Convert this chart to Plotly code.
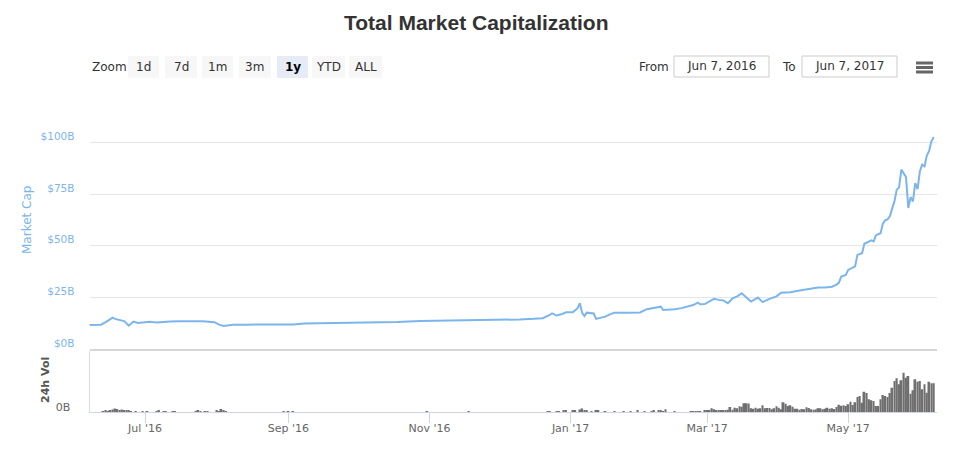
import plotly.graph_objects as go

# ---------------- data ----------------
cap_dates = [
    "2016-06-07", "2016-06-10", "2016-06-12", "2016-06-14", "2016-06-16", "2016-06-17",
    "2016-06-18", "2016-06-20", "2016-06-22", "2016-06-24", "2016-06-26", "2016-06-28",
    "2016-06-30", "2016-07-03", "2016-07-06", "2016-07-09", "2016-07-12", "2016-07-16",
    "2016-07-21", "2016-07-26", "2016-07-31", "2016-08-02", "2016-08-04", "2016-08-08",
    "2016-08-14", "2016-08-20", "2016-08-27", "2016-09-03", "2016-09-08", "2016-09-14",
    "2016-09-21", "2016-09-28", "2016-10-05", "2016-10-11", "2016-10-18", "2016-10-28",
    "2016-11-05", "2016-11-14", "2016-11-22", "2016-12-01", "2016-12-10", "2016-12-16",
    "2016-12-20", "2016-12-23", "2016-12-24", "2016-12-26", "2016-12-28", "2016-12-30",
    "2017-01-02", "2017-01-04", "2017-01-05", "2017-01-06", "2017-01-07", "2017-01-08",
    "2017-01-10", "2017-01-11", "2017-01-12", "2017-01-14", "2017-01-16", "2017-01-18",
    "2017-01-20", "2017-01-25", "2017-01-31", "2017-02-03", "2017-02-06", "2017-02-09",
    "2017-02-10", "2017-02-13", "2017-02-15", "2017-02-18", "2017-02-21", "2017-02-23",
    "2017-02-25", "2017-02-26", "2017-02-28", "2017-03-02", "2017-03-04", "2017-03-06",
    "2017-03-08", "2017-03-10", "2017-03-12", "2017-03-14", "2017-03-16", "2017-03-18",
    "2017-03-20", "2017-03-23", "2017-03-25", "2017-03-28", "2017-03-31", "2017-04-02",
    "2017-04-06", "2017-04-10", "2017-04-13", "2017-04-18", "2017-04-21", "2017-04-24",
    "2017-04-26", "2017-04-27", "2017-04-28", "2017-04-30", "2017-05-01", "2017-05-03",
    "2017-05-04", "2017-05-05", "2017-05-07", "2017-05-08", "2017-05-09", "2017-05-10",
    "2017-05-11", "2017-05-12", "2017-05-13", "2017-05-14", "2017-05-15", "2017-05-16",
    "2017-05-17", "2017-05-18", "2017-05-19", "2017-05-20", "2017-05-21", "2017-05-22",
    "2017-05-23", "2017-05-24", "2017-05-25", "2017-05-26", "2017-05-27", "2017-05-28",
    "2017-05-29", "2017-05-30", "2017-05-31", "2017-06-01", "2017-06-02", "2017-06-03",
    "2017-06-04", "2017-06-05", "2017-06-06", "2017-06-07",
]
cap_values = [  # billions USD
    11.6, 11.6, 11.8, 13.0, 14.5, 15.2,
    14.6, 14.0, 13.5, 11.3, 13.3, 12.6,
    12.9, 13.2, 12.8, 13.2, 13.3, 13.4,
    13.5, 13.4, 13.0, 11.8, 11.2, 11.7,
    11.8, 12.0, 11.9, 11.9, 12.4, 12.5,
    12.6, 12.6, 12.7, 13.0, 13.1, 13.6,
    13.7, 13.8, 13.8, 14.1, 14.3, 14.6,
    14.9, 16.5, 17.3, 16.2, 16.8, 17.8,
    17.8, 19.8, 22.2, 17.5, 16.0, 17.6,
    17.4, 17.2, 14.6, 15.2, 15.7, 16.8,
    17.6, 17.6, 17.7, 19.3, 19.8, 20.5,
    18.9, 19.1, 19.3, 19.8, 20.5, 21.3,
    22.5, 21.7, 21.8, 23.0, 24.3, 23.8,
    23.5, 22.2, 24.5, 25.5, 27.0, 25.0,
    23.0, 24.9, 22.7, 24.3, 25.5, 27.3,
    27.5, 28.3, 29.0, 29.8, 29.8, 30.2,
    31.2, 32.2, 35.1, 35.9, 38.3, 39.5,
    40.0, 45.6, 46.4, 51.0, 51.5, 52.4,
    52.6, 52.1, 55.0, 55.6, 56.1, 60.7,
    62.3, 62.8, 64.2, 68.0, 71.5, 77.2,
    78.3, 86.9, 85.0, 83.3, 68.3, 73.6,
    71.5, 80.4, 77.5, 86.1, 89.3, 88.5,
    93.7, 96.0, 100.6, 102.7,
]

vol_dates = [
    "2016-06-13", "2016-06-14", "2016-06-15", "2016-06-16", "2016-06-17", "2016-06-18",
    "2016-06-19", "2016-06-20", "2016-06-21", "2016-06-22", "2016-06-23", "2016-06-24",
    "2016-06-25", "2016-06-27", "2016-06-30", "2016-07-02", "2016-07-06", "2016-07-07",
    "2016-07-09", "2016-07-10", "2016-07-13", "2016-07-14", "2016-07-23", "2016-07-24",
    "2016-07-25", "2016-07-27", "2016-07-28", "2016-08-01", "2016-08-02", "2016-08-03",
    "2016-08-04", "2016-08-05", "2016-08-30", "2016-09-01", "2016-09-03", "2016-10-31",
    "2016-11-18", "2016-12-22", "2016-12-23", "2016-12-26", "2016-12-27", "2016-12-29",
    "2016-12-30", "2017-01-02", "2017-01-03", "2017-01-05", "2017-01-06", "2017-01-07",
    "2017-01-08", "2017-01-10", "2017-01-12", "2017-01-13", "2017-01-16", "2017-01-20",
    "2017-01-24", "2017-01-27", "2017-01-30", "2017-02-02", "2017-02-05", "2017-02-06",
    "2017-02-08", "2017-02-09", "2017-02-10", "2017-02-11", "2017-02-15", "2017-02-22",
    "2017-02-23", "2017-02-24", "2017-02-25", "2017-02-26", "2017-02-28", "2017-03-01",
    "2017-03-02", "2017-03-03", "2017-03-04", "2017-03-05", "2017-03-06", "2017-03-07",
    "2017-03-08", "2017-03-09", "2017-03-10", "2017-03-11", "2017-03-12", "2017-03-13",
    "2017-03-14", "2017-03-15", "2017-03-16", "2017-03-17", "2017-03-18", "2017-03-19",
    "2017-03-20", "2017-03-21", "2017-03-22", "2017-03-23", "2017-03-24", "2017-03-25",
    "2017-03-26", "2017-03-27", "2017-03-28", "2017-03-29", "2017-03-30", "2017-03-31",
    "2017-04-01", "2017-04-02", "2017-04-03", "2017-04-04", "2017-04-05", "2017-04-06",
    "2017-04-07", "2017-04-08", "2017-04-09", "2017-04-10", "2017-04-11", "2017-04-12",
    "2017-04-13", "2017-04-14", "2017-04-15", "2017-04-16", "2017-04-17", "2017-04-18",
    "2017-04-19", "2017-04-20", "2017-04-21", "2017-04-22", "2017-04-23", "2017-04-24",
    "2017-04-25", "2017-04-26", "2017-04-27", "2017-04-28", "2017-04-29", "2017-04-30",
    "2017-05-01", "2017-05-02", "2017-05-03", "2017-05-04", "2017-05-05", "2017-05-06",
    "2017-05-07", "2017-05-08", "2017-05-09", "2017-05-10", "2017-05-11", "2017-05-12",
    "2017-05-13", "2017-05-14", "2017-05-15", "2017-05-16", "2017-05-17", "2017-05-18",
    "2017-05-19", "2017-05-20", "2017-05-21", "2017-05-22", "2017-05-23", "2017-05-24",
    "2017-05-25", "2017-05-26", "2017-05-27", "2017-05-28", "2017-05-29", "2017-05-30",
    "2017-05-31", "2017-06-01", "2017-06-02", "2017-06-03", "2017-06-04", "2017-06-05",
    "2017-06-06", "2017-06-07",
]
vol_values = [  # billions USD
    0.08, 0.12, 0.08, 0.16, 0.20, 0.28,
    0.24, 0.16, 0.20, 0.12, 0.16, 0.12,
    0.08, 0.08, 0.08, 0.08, 0.08, 0.12,
    0.08, 0.08, 0.08, 0.08, 0.08, 0.12,
    0.08, 0.08, 0.08, 0.12, 0.08, 0.24,
    0.16, 0.08, 0.08, 0.08, 0.08, 0.08,
    0.08, 0.08, 0.08, 0.08, 0.08, 0.12,
    0.12, 0.12, 0.12, 0.20, 0.28, 0.16,
    0.12, 0.08, 0.12, 0.12, 0.08, 0.08,
    0.08, 0.08, 0.12, 0.08, 0.08, 0.12,
    0.12, 0.16, 0.08, 0.22, 0.06, 0.08,
    0.08, 0.08, 0.08, 0.08, 0.16, 0.16,
    0.16, 0.30, 0.22, 0.14, 0.14, 0.14,
    0.14, 0.14, 0.18, 0.40, 0.18, 0.34,
    0.30, 0.46, 0.42, 0.70, 0.70, 0.68,
    0.30, 0.26, 0.34, 0.26, 0.30, 0.54,
    0.30, 0.32, 0.32, 0.22, 0.30, 0.46,
    0.34, 0.22, 0.78, 0.66, 0.48, 0.54,
    0.42, 0.26, 0.26, 0.18, 0.24, 0.22,
    0.38, 0.32, 0.22, 0.18, 0.20, 0.30,
    0.30, 0.22, 0.26, 0.34, 0.26, 0.30,
    0.24, 0.40, 0.58, 0.50, 0.54, 0.48,
    0.62, 0.82, 0.56, 0.78, 1.20, 1.28,
    0.74, 1.62, 1.52, 1.02, 0.94, 0.88,
    0.48, 0.48, 1.02, 1.36, 1.28, 1.20,
    1.52, 1.94, 2.48, 2.70, 2.22, 2.54,
    3.14, 2.74, 2.88, 1.46, 1.74, 2.62,
    2.42, 2.48, 1.82, 2.22, 1.54, 2.42,
    2.30, 2.30,
]

x_tick_dates = ["2016-07-01", "2016-09-01", "2016-11-01", "2017-01-01", "2017-03-01", "2017-05-01"]
x_tick_labels = ["Jul '16", "Sep '16", "Nov '16", "Jan '17", "Mar '17", "May '17"]
cap_tick_vals = [0, 25, 50, 75, 100, 125]
cap_tick_labels = ["$0B", "$25B", "$50B", "$75B", "$100B", ""]
zoom_buttons = ["1d", "7d", "1m", "3m", "1y", "YTD", "ALL"]
selected_button = "1y"
from_text = "Jun 7, 2016"
to_text = "Jun 7, 2017"

# ---------------- layout helpers ----------------
W, H = 961, 453
FONT = "DejaVu Sans"


def px(x):
    return x / W


def py(y):
    return 1 - y / H


X0, X1 = 89.5, 936.5
x_range = ["2016-06-07 00:00", "2017-06-08 04:30"]

fig = go.Figure()
fig.add_trace(go.Scatter(
    x=cap_dates, y=cap_values, mode="lines",
    line=dict(color="#7cb5ec", width=2),
    xaxis="x", yaxis="y", hoverinfo="skip", showlegend=False,
))
fig.add_trace(go.Bar(
    x=vol_dates, y=vol_values,
    marker=dict(color="#6f6f6f", line_width=0),
    width=0.8 * 86400000,
    xaxis="x2", yaxis="y2", hoverinfo="skip", showlegend=False,
))

shapes = []
annotations = []

# title
annotations.append(dict(
    text="<b>Total Market Capitalization</b>", x=px(476), y=py(22),
    xref="paper", yref="paper", showarrow=False, xanchor="center", yanchor="middle",
    font=dict(family="Liberation Sans", size=21, color="#333333"),
))

# zoom label and buttons
annotations.append(dict(
    text="Zoom", x=px(90), y=py(67), xref="paper", yref="paper", showarrow=False,
    xanchor="left", yanchor="middle", font=dict(family=FONT, size=12, color="#333333"),
))
btn_x = [128, 165, 202, 239, 277, 312, 349]
btn_w = [31, 32, 31, 32, 31, 33, 33]
for label, bx, bw in zip(zoom_buttons, btn_x, btn_w):
    sel = label == selected_button
    shapes.append(dict(
        type="rect", xref="paper", yref="paper",
        x0=px(bx), x1=px(bx + bw), y0=py(78), y1=py(56),
        fillcolor="#e6ebf5" if sel else "#f7f7f7", line=dict(width=0), layer="below",
    ))
    annotations.append(dict(
        text=f"<b>{label}</b>" if sel else label,
        x=px(bx + bw / 2), y=py(67), xref="paper", yref="paper", showarrow=False,
        xanchor="center", yanchor="middle",
        font=dict(family=FONT, size=12, color="#000000" if sel else "#333333"),
    ))

# From / To inputs
annotations.append(dict(
    text="From", x=px(637), y=py(67), xref="paper", yref="paper", showarrow=False,
    xanchor="left", yanchor="middle", font=dict(family=FONT, size=12, color="#333333"),
))
annotations.append(dict(
    text="To", x=px(780), y=py(67), xref="paper", yref="paper", showarrow=False,
    xanchor="left", yanchor="middle", font=dict(family=FONT, size=12, color="#333333"),
))
for (bx0, bx1), txt in [((674, 769), from_text), ((802, 897), to_text)]:
    shapes.append(dict(
        type="rect", xref="paper", yref="paper",
        x0=px(bx0), x1=px(bx1), y0=py(77), y1=py(56),
        fillcolor="white", line=dict(color="#cccccc", width=1),
    ))
    annotations.append(dict(
        text=txt, x=px((bx0 + bx1) / 2), y=py(66.5), xref="paper", yref="paper",
        showarrow=False, xanchor="center", yanchor="middle",
        font=dict(family=FONT, size=12, color="#333333"),
    ))

# hamburger menu
for yy in [63, 67.5, 72]:
    shapes.append(dict(
        type="line", xref="paper", yref="paper",
        x0=px(916), x1=px(933), y0=py(yy), y1=py(yy),
        line=dict(color="#666666", width=3),
    ))

# axis titles
annotations.append(dict(
    text="Market Cap", x=px(27), y=py(220), xref="paper", yref="paper", showarrow=False,
    textangle=-90, xanchor="center", yanchor="middle",
    font=dict(family=FONT, size=12, color="#7cb5ec"),
))
annotations.append(dict(
    text="<b>24h Vol</b>", x=px(45), y=py(380), xref="paper", yref="paper", showarrow=False,
    textangle=-90, xanchor="center", yanchor="middle",
    font=dict(family=FONT, size=11, color="#555555"),
))

fig.update_layout(
    width=W, height=H, autosize=False,
    margin=dict(l=0, r=0, t=0, b=0, pad=0),
    paper_bgcolor="white", plot_bgcolor="white",
    showlegend=False, hovermode=False,
    font=dict(family=FONT, size=11, color="#666666"),
    shapes=shapes, annotations=annotations,
    xaxis=dict(
        domain=[px(X0), px(X1)], range=x_range, type="date", anchor="y",
        showticklabels=False, showgrid=False, zeroline=False,
        showline=True, linecolor="#d6d6d6", linewidth=2,
    ),
    yaxis=dict(
        domain=[py(349), py(91)], range=[0, 125], anchor="x",
        tickvals=cap_tick_vals, ticktext=cap_tick_labels,
        showgrid=True, gridcolor="#e6e6e6", gridwidth=1, zeroline=False,
        ticks="", showline=False, automargin=False,
        tickfont=dict(family=FONT, size=10.5, color="#7cb5ec"),
        ticklabelshift=-6, ticklabelstandoff=14,
    ),
    xaxis2=dict(
        domain=[px(X0), px(X1)], range=x_range, type="date", anchor="y2",
        tickvals=x_tick_dates, ticktext=x_tick_labels,
        ticks="outside", ticklen=10, tickcolor="#ccd6eb", tickwidth=1,
        showgrid=False, zeroline=False, automargin=False,
        showline=True, linecolor="#ccd6eb", linewidth=1,
        tickfont=dict(family=FONT, size=11, color="#666666"),
        ticklabelstandoff=-4,
    ),
    yaxis2=dict(
        domain=[py(412), py(351)], range=[0, 4.88], anchor="x2",
        tickvals=[0], ticktext=["0B"],
        showgrid=False, zeroline=False, ticks="", automargin=False,
        showline=True, linecolor="#dcdcdc", linewidth=1,
        tickfont=dict(family=FONT, size=11, color="#666666"),
        ticklabelshift=-5, ticklabelstandoff=16,
    ),
)

fig.write_html("out.html")
